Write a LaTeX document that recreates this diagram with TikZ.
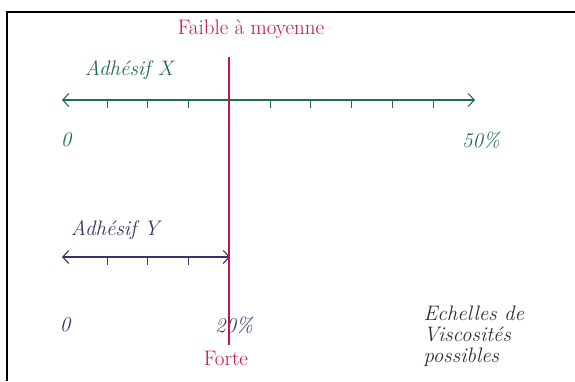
\documentclass[tikz,border=0pt]{standalone}
\usepackage{tikz}
\usetikzlibrary{arrows.meta, positioning}
\definecolor{InkRed}{HTML}{C4134A}
\definecolor{InkGreen}{HTML}{1F6E48}
\definecolor{InkPurple}{HTML}{3F3168}
\definecolor{InkGray}{HTML}{2E2E2E}
\tikzset{
  hand/.style={font=\fontsize{21}{21}\selectfont\itshape},
  axis/.style={line width=1.1pt, {Straight Barb[length=6pt,width=13pt]}-{Straight Barb[length=6pt,width=13pt]}},
  tick/.style={line width=0.9pt},
}
\begin{document}
\begin{tikzpicture}[x=1pt, y=-1pt]
  \useasboundingbox (0,0) rectangle (575,381);
  % sheet border
  \draw[line width=1.6pt, color=black] (7,381) -- (7,12) -- (575,12);

  % scale of adhesive X
  \coordinate (xStart) at (62,100);
  \coordinate (xEnd) at (475,100);
  \draw[axis, color=InkGreen] (xStart) -- (xEnd);
  \foreach \i in {0,...,8}
    \draw[tick, color=InkGreen] (107+40.75*\i,100) -- ++(0,8);
  \node[hand, color=InkGreen] (labelX) at (129,70) {Adh\'esif X};
  \node[hand, color=InkGreen] (xZero) at (66,140) {0};
  \node[hand, color=InkGreen] (xMax) at (481,140) {50\%};

  % scale of adhesive Y
  \coordinate (yStart) at (62,257);
  \coordinate (yEnd) at (230,257);
  \draw[axis, color=InkPurple] (yStart) -- (yEnd);
  \foreach \i in {0,...,2}
    \draw[tick, color=InkPurple] (107+40.75*\i,257) -- ++(0,8);
  \node[hand, color=InkPurple] (labelY) at (115,230) {Adh\'esif Y};
  \node[hand, color=InkPurple] (yZero) at (65,325) {0};
  \node[hand, color=InkPurple] (yMax) at (234,325) {20\%};

  % viscosity limit
  \node[font=\fontsize{21}{21}\selectfont, color=InkRed] (weak) at (251,29) {Faible \`a moyenne};
  \node[font=\fontsize{21}{21}\selectfont, color=InkRed] (strong) at (226,358) {Forte};
  \coordinate (limTop) at (229,57);
  \coordinate (limBot) at (229,345);
  \draw[line width=1.3pt, color=InkRed] (limTop) -- (limBot);

  \node[hand, color=InkGray, align=left, anchor=west] (note) at (420,336)
    {Echelles de\\Viscosit\'es\\possibles};
\end{tikzpicture}
\end{document}
